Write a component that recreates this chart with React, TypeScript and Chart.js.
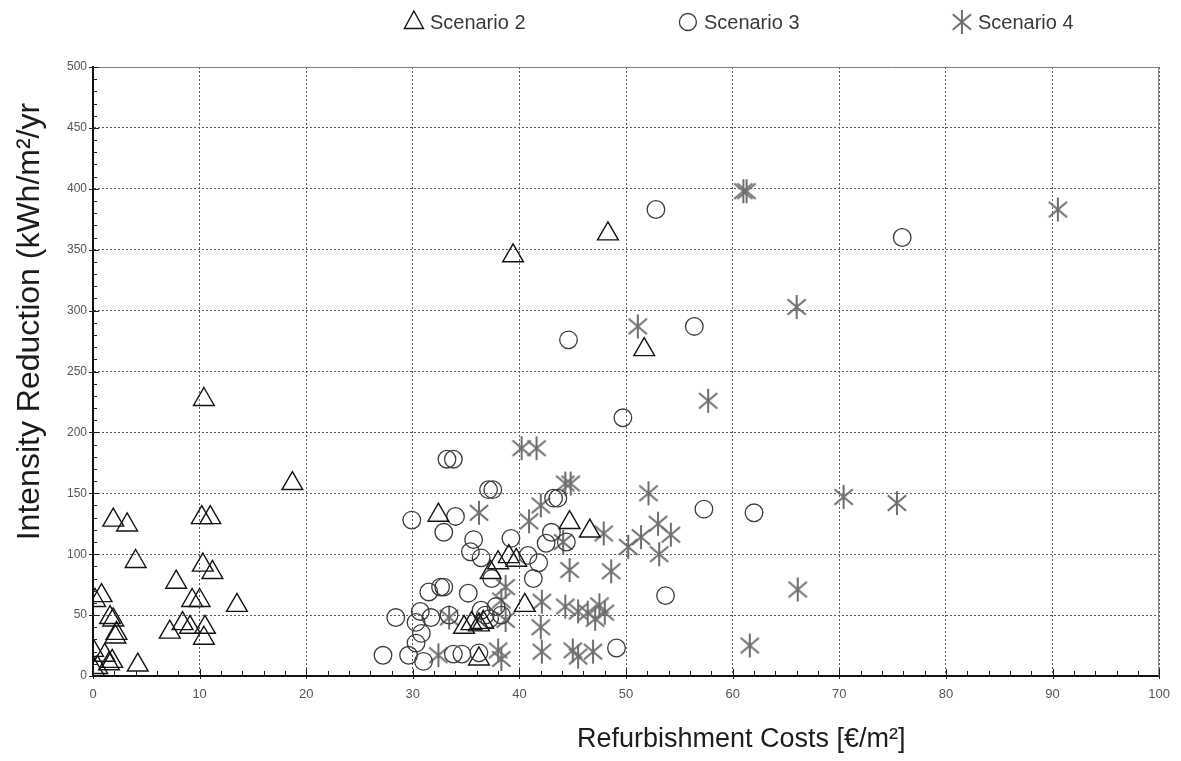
import React, { useEffect, useRef } from 'react';
import { Chart, registerables } from 'chart.js';

Chart.register(...registerables);

// ---------- data ----------
const legendLabels = ['Scenario 2', 'Scenario 3', 'Scenario 4'];
const xAxisTitle = 'Refurbishment Costs [€/m²]';
const yAxisTitle = 'Intensity Reduction (kWh/m²/yr';

const xMin = 0;
const xMax = 100;
const xStep = 10;
const yMin = 0;
const yMax = 500;
const yStep = 50;

const scenario2Cost = [
  39.4, 48.3, 51.7, 18.7, 10.4,
  1.9, 3.2, 4.0, 10.2, 11.0, 10.3, 11.2, 7.8, 13.5, 9.3, 10.0, 8.4, 7.2, 9.1, 10.5, 10.4,
  0.8, 0.2, 1.9, 1.6, 2.2, 2.1, 0.0, 1.1, 1.8, 1.5, 4.2, 0.4, 0.1,
  32.4, 44.7, 46.6, 38.0, 39.0, 39.7, 37.3, 40.5, 34.8, 35.5, 36.2, 36.6, 36.2,
];
const scenario2Reduction = [
  345, 363, 268, 158, 227,
  128, 124, 94, 130, 130, 91, 85, 77, 58, 62, 62, 43, 36, 40, 40, 31,
  66, 62, 46, 48, 35, 32, 21, 17, 12, 10, 9, 7, 5,
  132, 126, 119, 93, 98, 95, 85, 58, 40, 43, 42, 44, 14,
];

const scenario3Cost = [
  52.8, 75.9, 44.6, 56.4, 49.7, 57.3, 62.0, 53.7, 49.1,
  33.2, 33.8, 37.1, 37.5, 43.2, 43.6, 29.9, 34.0, 32.9, 35.7, 35.4, 36.4, 37.4,
  39.2, 40.8, 41.8, 41.3, 43.0, 44.4, 42.5, 31.5, 32.6, 32.9, 35.2,
  28.4, 30.7, 31.7, 30.3, 30.8, 33.4, 30.3, 27.2, 29.6, 31.0, 33.8, 34.6, 36.2,
  36.4, 37.8, 38.3, 37.2, 36.8,
];
const scenario3Reduction = [
  383, 360, 276, 287, 212, 137, 134, 66, 23,
  178, 178, 153, 153, 146, 146, 128, 131, 118, 112, 102, 97, 80,
  113, 99, 93, 80, 118, 110, 109, 69, 73, 73, 68,
  48, 53, 48, 44, 35, 50, 27, 17, 17, 12, 18, 18, 19,
  54, 57, 50, 47, 50,
];

const scenario4Cost = [
  61.0, 61.3, 90.5, 66.0, 57.7, 51.1, 40.2, 41.6, 44.3, 44.8, 52.1, 70.4, 75.4, 66.1, 61.6,
  36.2, 42.0, 40.9, 47.9, 53.0, 51.4, 54.2, 50.2, 53.1, 44.1,
  44.7, 48.6, 44.3, 45.5, 46.4, 47.5, 48.0, 47.1, 42.1, 38.7, 38.7,
  42.0, 42.1, 45.0, 45.5, 46.9, 38.0, 38.3, 32.4, 33.4, 38.3,
];
const scenario4Reduction = [
  398, 398, 383, 303, 226, 287, 187, 187, 158, 158, 150, 147, 142, 71, 25,
  134, 140, 127, 117, 125, 114, 116, 106, 100, 110,
  87, 86, 57, 53, 52, 58, 52, 47, 61, 73, 46,
  40, 20, 21, 16, 20, 21, 14, 17, 48, 62,
];

const toPoints = (xs: number[], ys: number[]) => xs.map((x, i) => ({ x, y: ys[i] }));

// ---------- marker helpers ----------
const TRI_COLOR = '#141414';
const CIRC_COLOR = '#3c3c3c';
const STAR_COLOR = '#6e6e6e';

function makeAsterisk(): HTMLCanvasElement {
  const c = document.createElement('canvas');
  const s = 26;
  c.width = s;
  c.height = s;
  const g = c.getContext('2d')!;
  g.strokeStyle = STAR_COLOR;
  g.lineWidth = 2;
  g.lineCap = 'butt';
  const cx = s / 2;
  const cy = s / 2;
  const r = 12;
  g.beginPath();
  g.moveTo(cx, cy - r);
  g.lineTo(cx, cy + r);
  const a = (40 * Math.PI) / 180;
  const dx = Math.cos(a) * r;
  const dy = Math.sin(a) * r;
  g.moveTo(cx - dx, cy - dy);
  g.lineTo(cx + dx, cy + dy);
  g.moveTo(cx - dx, cy + dy);
  g.lineTo(cx + dx, cy - dy);
  g.stroke();
  return c;
}

export default function App() {
  const canvasRef = useRef<HTMLCanvasElement | null>(null);

  useEffect(() => {
    document.body.style.margin = '0';
    document.body.style.overflow = 'hidden';
    const canvas = canvasRef.current;
    if (!canvas) return;
    const star = makeAsterisk();

    const legendPlugin = {
      id: 'customLegend',
      afterDraw(chart: any) {
        const { ctx, chartArea } = chart;
        const w = chartArea.right - chartArea.left;
        const y = 22;
        ctx.save();
        ctx.font = '20px "Liberation Sans", Arial, sans-serif';
        ctx.fillStyle = '#3a3a3a';
        ctx.textBaseline = 'middle';
        ctx.textAlign = 'left';
        legendLabels.forEach((label, i) => {
          const mx = chartArea.left + w * (0.301 + i * 0.257);
          if (i === 0) {
            const r = 11;
            ctx.strokeStyle = TRI_COLOR;
            ctx.lineWidth = 1.4;
            ctx.beginPath();
            ctx.moveTo(mx, y - r);
            ctx.lineTo(mx + r * 0.866, y + r * 0.5 + 1);
            ctx.lineTo(mx - r * 0.866, y + r * 0.5 + 1);
            ctx.closePath();
            ctx.stroke();
          } else if (i === 1) {
            ctx.strokeStyle = CIRC_COLOR;
            ctx.lineWidth = 1.3;
            ctx.beginPath();
            ctx.arc(mx, y, 8.5, 0, Math.PI * 2);
            ctx.stroke();
          } else {
            ctx.drawImage(star, mx - star.width / 2, y - star.height / 2);
          }
          ctx.fillText(label, mx + 16, y + 1);
        });
        ctx.restore();
      },
    };

    const decorPlugin = {
      id: 'decor',
      afterDraw(chart: any) {
        const { ctx, chartArea, scales } = chart;
        const xs = scales.x;
        const ys = scales.y;
        ctx.save();
        // frame top & right
        ctx.strokeStyle = '#808080';
        ctx.lineWidth = 1;
        ctx.beginPath();
        ctx.moveTo(chartArea.left, chartArea.top + 0.5);
        ctx.lineTo(chartArea.right, chartArea.top + 0.5);
        ctx.moveTo(chartArea.right - 0.5, chartArea.top);
        ctx.lineTo(chartArea.right - 0.5, chartArea.bottom);
        ctx.stroke();
        // ticks
        ctx.strokeStyle = '#222';
        ctx.lineWidth = 1;
        ctx.beginPath();
        for (let v = xMin; v <= xMax; v += 2) {
          const px = Math.round(xs.getPixelForValue(v)) + 0.5;
          const len = v % xStep === 0 ? 7 : 5;
          ctx.moveTo(px, chartArea.bottom);
          ctx.lineTo(px, chartArea.bottom - len);
          if (v % xStep === 0) {
            ctx.moveTo(px, chartArea.bottom);
            ctx.lineTo(px, chartArea.bottom + 3);
          }
        }
        for (let v = yMin; v <= yMax; v += 10) {
          const py = Math.round(ys.getPixelForValue(v)) + 0.5;
          const major = v % yStep === 0;
          ctx.moveTo(major ? chartArea.left - 4 : chartArea.left, py);
          ctx.lineTo(chartArea.left + (major ? 6 : 4), py);
        }
        ctx.stroke();

        // axis titles
        ctx.fillStyle = '#1c1c1c';
        ctx.textAlign = 'center';
        ctx.textBaseline = 'middle';
        const w = chartArea.right - chartArea.left;
        const h = chartArea.bottom - chartArea.top;
        ctx.font = '27px "Liberation Sans", Arial, sans-serif';
        ctx.fillText(xAxisTitle, chartArea.left + w * 0.608, chartArea.bottom + 64);
        ctx.save();
        ctx.font = '32px "Liberation Sans", Arial, sans-serif';
        ctx.translate(30, chartArea.top + h * 0.418);
        ctx.rotate(-Math.PI / 2);
        ctx.fillText(yAxisTitle, 0, 0);
        ctx.restore();
        ctx.restore();
      },
    };

    const chart = new Chart(canvas, {
      type: 'scatter',
      data: {
        datasets: [
          {
            label: legendLabels[0],
            data: toPoints(scenario2Cost, scenario2Reduction),
            pointStyle: 'triangle',
            pointRadius: 12,
            pointHoverRadius: 12,
            borderColor: TRI_COLOR,
            backgroundColor: 'rgba(0,0,0,0)',
            borderWidth: 1.4,
          },
          {
            label: legendLabels[1],
            data: toPoints(scenario3Cost, scenario3Reduction),
            pointStyle: 'circle',
            pointRadius: 8.8,
            pointHoverRadius: 8.8,
            borderColor: CIRC_COLOR,
            backgroundColor: 'rgba(0,0,0,0)',
            borderWidth: 1.3,
          },
          {
            label: legendLabels[2],
            data: toPoints(scenario4Cost, scenario4Reduction),
            pointStyle: star as any,
            pointRadius: 13,
            pointHoverRadius: 13,
            borderColor: STAR_COLOR,
            backgroundColor: STAR_COLOR,
          },
        ],
      },
      options: {
        animation: false,
        responsive: false,
        maintainAspectRatio: false,
        events: [],
        layout: { padding: { top: 67, right: 14, left: 0, bottom: 0 } },
        plugins: {
          legend: { display: false },
          tooltip: { enabled: false },
        },
        scales: {
          x: {
            type: 'linear',
            min: xMin,
            max: xMax,
            ticks: {
              stepSize: xStep,
              color: '#555',
              padding: 11,
              font: { family: '"Liberation Sans", Arial, sans-serif', size: 13 },
              maxRotation: 0,
            },
            grid: { color: '#5a5a5a', lineWidth: 1, drawTicks: false },
            border: { display: true, color: '#111', width: 2, dash: [2, 2] },
            afterFit: (s: any) => {
              s.height = 85;
            },
          },
          y: {
            type: 'linear',
            min: yMin,
            max: yMax,
            ticks: {
              stepSize: yStep,
              color: '#555',
              padding: 6,
              font: { family: '"Liberation Sans", Arial, sans-serif', size: 12 },
            },
            grid: { color: '#5a5a5a', lineWidth: 1, drawTicks: false },
            border: { display: true, color: '#111', width: 2, dash: [2, 2] },
            afterFit: (s: any) => {
              s.width = 93;
            },
          },
        },
      } as any,
      plugins: [legendPlugin, decorPlugin],
    });

    return () => {
      chart.destroy();
    };
  }, []);

  return (
    <div style={{ width: 1181, height: 761, background: '#fff' }}>
      <canvas ref={canvasRef} width={1181} height={761} style={{ display: 'block' }} />
    </div>
  );
}
